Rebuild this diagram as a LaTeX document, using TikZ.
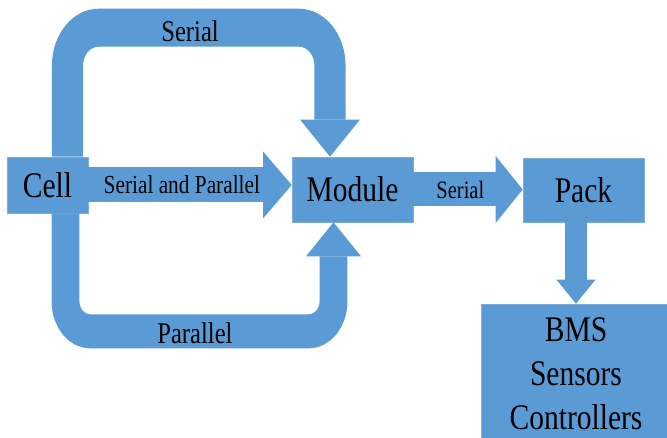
\documentclass[tikz,border=0pt]{standalone}
\usepackage{fontspec}
\setmainfont{Liberation Serif}
\usetikzlibrary{arrows.meta,calc}
\definecolor{boxfill}{HTML}{5B9BD5}
\definecolor{boxline}{HTML}{80AADA}

\tikzset{
  box/.style = {draw=boxline, fill=boxfill, line width=0.6pt, inner sep=0pt, align=center, font=\fontsize{36}{44}\selectfont},
  fat/.style = {draw=boxfill, line width=#1},
  lbl/.style = {inner sep=0pt, text=black},
}

\begin{document}
\begin{tikzpicture}[x=1pt, y=-1pt]
\useasboundingbox (0,0) rectangle (667,438);
\begin{scope}[transform canvas={xscale=0.82}, x=1.2195pt]
  \node[box, minimum width=98.8pt, minimum height=56pt] (cell) at (47.5,185) {Cell};
  \node[box, minimum width=147.6pt, minimum height=65pt] (module) at (352.5,189.5) {Module};
  \node[box, minimum width=147.6pt, minimum height=64pt] (pack) at (583.5,190) {Pack};
  \node[box, minimum width=231.7pt, minimum height=160pt, text depth=21pt] (bms) at (576,384) {BMS\\Sensors\\Controllers};

  % cell to module, three ways
  \draw[fat=38pt, rounded corners=38pt, -{Triangle[length=37pt, width=73pt, line width=0pt]}]
    ($(cell.north)+(20,0)$) -- ++(0,-129)
    -- node[lbl, pos=0.467, yshift=-4pt, font=\fontsize{30}{36}\selectfont] {Serial} ($(module.north)+(-22.5,-129)$)
    -- ($(module.north)+(-22.5,0)$);
  \draw[fat=35pt, -{Triangle[length=35pt, width=67pt, line width=0pt]}]
    (cell.east) -- node[lbl, pos=0.46, font=\fontsize{26}{30}\selectfont] {Serial and Parallel} (cell.east -| module.west);
  \draw[fat=34pt, rounded corners=30pt, -{Triangle[length=34pt, width=67pt, line width=0pt]}]
    ($(cell.south)+(18,0)$) -- ++(0,118)
    -- node[lbl, pos=0.483, yshift=-2pt, font=\fontsize{30}{36}\selectfont] {Parallel} ($(module.south)+(-19,109)$)
    -- ($(module.south)+(-19,0)$);

  % module to pack to bms
  \draw[fat=34pt, -{Triangle[length=33pt, width=67pt, line width=0pt]}]
    (module.east) -- node[lbl, pos=0.43, font=\fontsize{25}{30}\selectfont] {Serial} (module.east -| pack.west);
  \draw[fat=26.8pt, -{Triangle[length=24pt, width=47.6pt, line width=0pt]}]
    (bms.north |- pack.south) -- (bms.north);
\end{scope}
\end{tikzpicture}
\end{document}
